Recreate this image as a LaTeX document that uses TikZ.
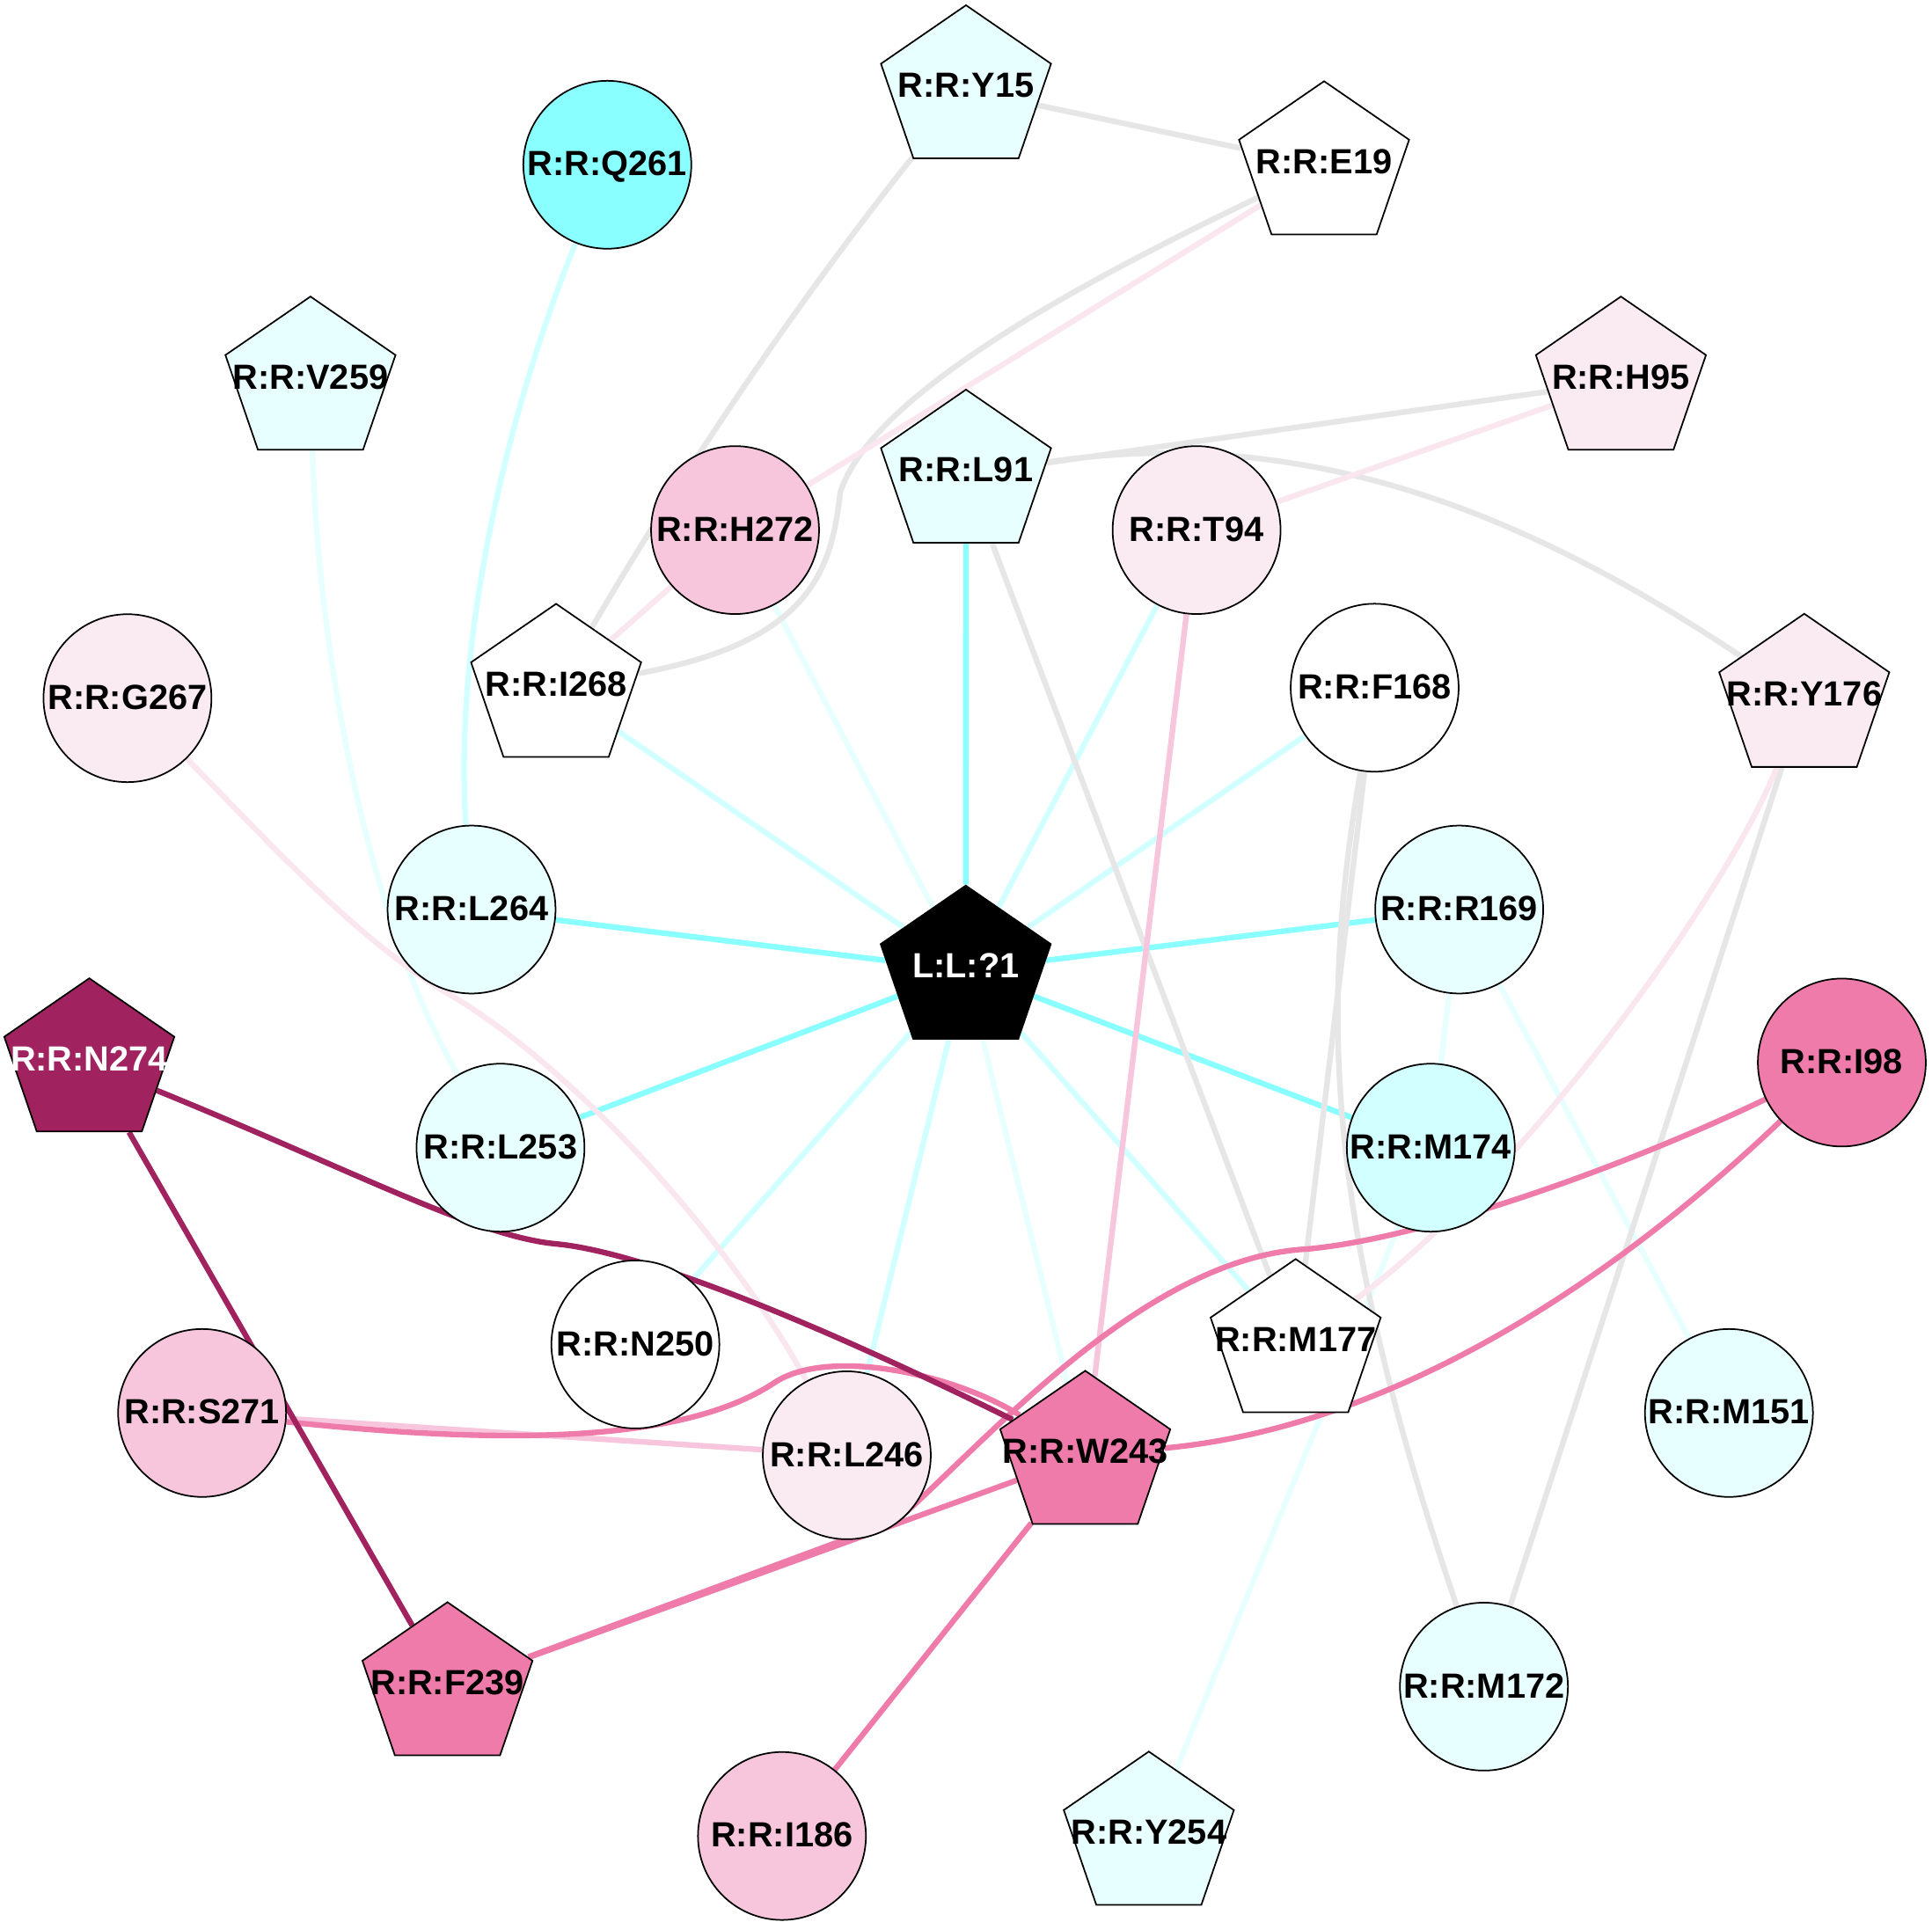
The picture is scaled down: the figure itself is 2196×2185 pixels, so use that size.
\documentclass[tikz,border=0pt]{standalone}
\usepackage{fontspec}
\setmainfont{Liberation Sans}
\usetikzlibrary{shapes.geometric}
\definecolor{cyA}{HTML}{8AFFFF}
\definecolor{cyB}{HTML}{D2FFFF}
\definecolor{cyC}{HTML}{E8FFFF}
\definecolor{pkA}{HTML}{FAEAF2}
\definecolor{pkAe}{HTML}{FAE6EF}
\definecolor{pkB}{HTML}{F7C6DC}
\definecolor{pkC}{HTML}{EF7BAB}
\definecolor{mag}{HTML}{A0225F}
\definecolor{gry}{HTML}{E6E6E6}
\pgfdeclarelayer{bg}
\pgfdeclarelayer{edges}
\pgfsetlayers{bg,edges,main}
\begin{document}
\begin{tikzpicture}[x=0.01cm,y=-0.01cm,
  txt/.style={font=\bfseries\fontsize{11.3}{13}\selectfont, text height=0.72em, text depth=0pt},
  circ/.style={circle, draw=black, line width=0.5pt, minimum size=1.908cm, inner sep=0pt, txt},
  pent/.style={regular polygon, regular polygon sides=5, draw=black, line width=0.5pt, minimum size=1.924cm, inner sep=0pt, xscale=1.056},
  lbl/.style={inner sep=0pt, txt},
  e/.style={line width=1.8pt},
  ecA/.style={e, draw=cyA}, ecB/.style={e, draw=cyB}, ecC/.style={e, draw=cyC},
  egr/.style={e, draw=gry},
  epA/.style={e, draw=pkAe}, epB/.style={e, draw=pkB}, epC/.style={e, draw=pkC},
  emg/.style={e, draw=mag}]
\begin{pgfonlayer}{bg}
\fill[white] (0,0) rectangle (2196,2185);
\end{pgfonlayer}
\useasboundingbox (0,0) rectangle (2196,2185);

% circles
\node[circ, fill=cyA] (q261) at (690.3,187.3) {R:R:Q261};
\node[circ, fill=pkB] (h272) at (835.5,602.6) {R:R:H272};
\node[circ, fill=pkA] (g267) at (144.9,793.7) {R:R:G267};
\node[circ, fill=cyC] (l264) at (536,1034) {R:R:L264};
\node[circ, fill=pkA] (t94) at (1360.1,602.6) {R:R:T94};
\node[circ, fill=white] (f168) at (1562.5,781.8) {R:R:F168};
\node[circ, fill=cyC] (r169) at (1658.6,1034) {R:R:R169};
\node[circ, fill=cyC] (l253) at (568.9,1304.7) {R:R:L253};
\node[circ, fill=white] (n250) at (722.2,1528.4) {R:R:N250};
\node[circ, fill=pkB] (s271) at (229.7,1606.3) {R:R:S271};
\node[circ, fill=pkA] (l246) at (962.5,1654.4) {R:R:L246};
\node[circ, fill=pkB] (i186) at (888.8,2087.2) {R:R:I186};
\node[circ, fill=pkC] (i98) at (2093.5,1207.9) {R:R:I98};
\node[circ, fill=cyB] (m174) at (1626.3,1304.7) {R:R:M174};
\node[circ, fill=cyC] (m151) at (1965.2,1606.3) {R:R:M151};
\node[circ, fill=cyC] (m172) at (1686.7,1917.4) {R:R:M172};

% pentagons
\node[pent, fill=cyC] (y15) at (1098,102.2) {};
\node[lbl] (y15t) at (1098,98.2) {R:R:Y15};
\node[pent, fill=white] (e19) at (1505,188.6) {};
\node[lbl] (e19t) at (1505,184.6) {R:R:E19};
\node[pent, fill=cyC] (v259) at (352.9,433.4) {};
\node[lbl] (v259t) at (352.9,429.4) {R:R:V259};
\node[pent, fill=pkA] (h95) at (1842.4,433.4) {};
\node[lbl] (h95t) at (1842.4,429.4) {R:R:H95};
\node[pent, fill=cyC] (l91) at (1098,539.2) {};
\node[lbl] (l91t) at (1098,535.2) {R:R:L91};
\node[pent, fill=white] (i268) at (632.1,782.7) {};
\node[lbl] (i268t) at (632.1,778.7) {R:R:I268};
\node[pent, fill=pkA] (y176) at (2050.8,794) {};
\node[lbl] (y176t) at (2050.8,790) {R:R:Y176};
\node[pent, fill=black] (lig) at (1097.7,1103) {};
\node[lbl, text=white] (ligt) at (1097.7,1099) {L:L:?1};
\node[pent, fill=mag] (n274) at (101.5,1208.4) {};
\node[lbl, text=white] (n274t) at (101.5,1204.4) {R:R:N274};
\node[pent, fill=white] (m177) at (1472.7,1527.6) {};
\node[lbl] (m177t) at (1472.7,1523.6) {R:R:M177};
\node[pent, fill=pkC] (w243) at (1233.5,1654.6) {};
\node[lbl] (w243t) at (1233.5,1650.6) {R:R:W243};
\node[pent, fill=pkC] (f239) at (508.6,1917.7) {};
\node[lbl] (f239t) at (508.6,1913.7) {R:R:F239};
\node[pent, fill=cyC] (y254) at (1305.8,2087.5) {};
\node[lbl] (y254t) at (1305.8,2083.5) {R:R:Y254};

\begin{pgfonlayer}{edges}
% ligand edges
\draw[ecA] (lig) -- (l91);
\draw[ecA] (lig) -- (l264);
\draw[ecA] (lig) -- (r169);
\draw[ecA] (lig) -- (l253);
\draw[ecA] (lig) -- (m174);
\draw[ecB] (lig) -- (i268);
\draw[ecB] (lig) -- (t94);
\draw[ecB] (lig) -- (f168);
\draw[ecB] (lig) -- (n250);
\draw[ecB] (lig) -- (l246);
\draw[ecB] (lig) -- (m177);
\draw[ecC] (lig) -- (h272);
\draw[ecC] (lig) -- (w243);
% other cyan
\draw[ecB] (q261) .. controls (580,460) and (515,720) .. (l264);
\draw[ecC] (v259) .. controls (362,750) and (420,1050) .. (l253);
\draw[ecC] (r169) -- (m151);
\draw[ecC] (r169) -- (m174);
\draw[ecC] (m174) -- (y254);
% gray
\draw[egr] (y15) -- (e19);
\draw[egr] (y15) .. controls (905,345) and (780,530) .. (i268);
\draw[egr] (e19) .. controls (1220,325) and (990,450) .. (955,560) .. controls (945,650) and (920,730) .. (i268);
\draw[egr] (h95) -- (l91);
\draw[egr] (l91) .. controls (1493,480) and (1746,591) .. (y176);
\draw[egr] (l91) -- (m177);
\draw[egr] (f168) -- (m177);
\draw[egr] (f168) .. controls (1500,1150) and (1505,1380) .. (m172);
\draw[egr] (y176) -- (m172);
% light pink
\draw[epA] (e19) -- (h272);
\draw[epA] (h272) -- (i268);
\draw[epA] (h95) -- (t94);
\draw[epA] (y176) .. controls (1965,1010) and (1740,1330) .. (m177);
\draw[epA] (g267) .. controls (304,956) and (405,1067) .. (505,1127) .. controls (650,1210) and (830,1410) .. (l246);
% medium pink
\draw[epB] (t94) -- (w243);
\draw[epB] (s271) -- (l246);
% strong pink
\draw[epC] (s271) .. controls (550,1640) and (770,1645) .. (880,1572) .. controls (940,1532) and (1080,1560) .. (w243);
\draw[epC] (f239) -- (w243);
\draw[epC] (i98) .. controls (1850,1325) and (1620,1408) .. (1485,1420) .. controls (1300,1430) and (1120,1640) .. (1020,1728) -- (f239);
\draw[epC] (i98) .. controls (1822,1467) and (1575,1623) .. (w243);
\draw[epC] (w243) -- (i186);
% magenta
\draw[emg] (n274) .. controls (400,1330) and (540,1405) .. (631,1414) .. controls (720,1422) and (900,1490) .. (w243);
\draw[emg] (n274) -- (f239);
\end{pgfonlayer}
\end{tikzpicture}
\end{document}
